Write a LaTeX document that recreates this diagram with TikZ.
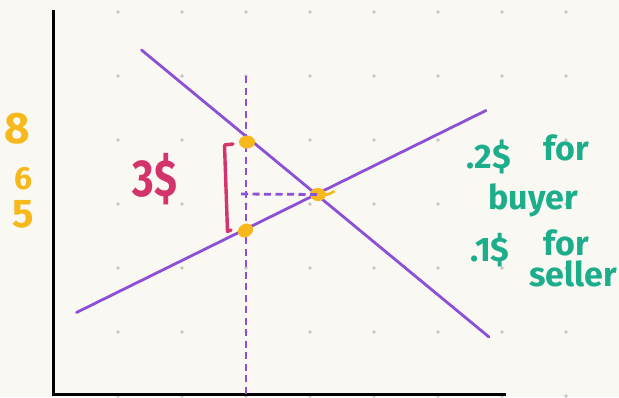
\documentclass[tikz,border=0pt]{standalone}
\usepackage{fontspec}
\setmainfont{Fira Sans}
\usetikzlibrary{positioning,shapes.geometric}
\definecolor{PaperBg}{HTML}{FAF8F3}
\definecolor{GridDot}{HTML}{C6C4C0}
\definecolor{CurvePurple}{HTML}{8B50D6}
\definecolor{MarkYellow}{HTML}{F6B81A}
\definecolor{NoteRed}{HTML}{D2346B}
\definecolor{NoteGreen}{HTML}{1CAE8B}
\tikzset{
	curve/.style={draw=CurvePurple, line width=2.8pt, line cap=round},
	guide/.style={draw=CurvePurple, line width=2.8pt, dash pattern=on 7pt off 4.5pt},
	axisline/.style={draw=black, line width=3pt},
	blob/.style={ellipse, fill=MarkYellow, inner sep=0pt, minimum width=16pt, minimum height=13pt},
	ticklabel/.style={text=MarkYellow, inner sep=0pt, font=\bfseries\fontsize{40}{42}\selectfont},
	gaplabel/.style={text=NoteRed, inner sep=0pt, xscale=0.8, font=\bfseries\fontsize{52}{54}\selectfont},
	notelabel/.style={text=NoteGreen, inner sep=0pt, font=\bfseries\fontsize{34}{36}\selectfont},
}

\begin{document}
\begin{tikzpicture}[x=1pt,y=-1pt]
	\fill[PaperBg] (0,0) rectangle (619,397);
	\useasboundingbox (0,0) rectangle (619,397);

	% Dotted paper
	\foreach \gx in {118,182,...,566}
		\foreach \gy in {12,76,...,396}
			\fill[GridDot] (\gx,\gy) circle (1.8pt);

	% Axes
	\coordinate (origin) at (53.5,394.5);
	\coordinate (ytop) at (53.5,10);
	\coordinate (xend) at (506,394.5);
	\draw[axisline] (ytop) -- (origin) -- (xend);

	% Demand and supply
	\coordinate (dstart) at (141.5,50);
	\coordinate (dend) at (489,337);
	\coordinate (sstart) at (76.5,312.5);
	\coordinate (send) at (486,110.5);
	\draw[curve] (dstart) -- (dend);
	\draw[curve] (sstart) -- (send);

	% Quantity with the tax, and the old price
	\coordinate (qtop) at (246,76);
	\coordinate (qbot) at (246,397);
	\coordinate (pleft) at (241,194);
	\draw[guide] (qtop) -- (qbot);
	\node[blob] (buyerpt) at (247,142) {};
	\node[blob, rotate=30] (sellerpt) at (245.5,230.5) {};
	\node[blob] (eqpt) at (318,194.5) {};
	\draw[guide] (pleft) -- (eqpt.center);
	\draw[MarkYellow, line width=2.6pt, line cap=round] (eqpt.east) .. controls (327,195) and (331,193) .. (334,191.5);

	% Wedge bracket
	\coordinate (brtop) at (233,144);
	\coordinate (brbot) at (231,230);
	\draw[NoteRed, line width=3.4pt, line cap=round, line join=round] (brtop) -- (224.5,145) -- (227.5,231.5) -- (brbot);

	% Price labels
	\node[ticklabel, scale=1.1] (peight) at (17,129) {8};
	\node[ticklabel, scale=0.8] (psix) at (24,179) {6};
	\node[ticklabel] (pfive) at (23,214) {5};
	\node[gaplabel] (gap) at (155,179) {3\$};

	% Incidence notes
	\node[notelabel] (buyershare) at (489,157) {.2\$};
	\node[notelabel] (forone) at (566,148) {for};
	\node[notelabel] (buyerword) at (533,200) {buyer};
	\node[notelabel] (sellershare) at (490,250) {.1\$};
	\node[notelabel] (fortwo) at (566,243) {for};
	\node[notelabel] (sellerword) at (573,274) {seller};
\end{tikzpicture}
\end{document}
